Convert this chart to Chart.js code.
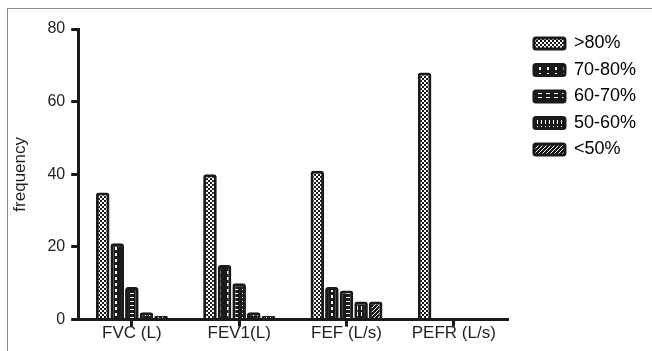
<!DOCTYPE html>
<html>
<head>
<meta charset="utf-8">
<script src="https://cdn.jsdelivr.net/npm/chart.js@4.4.1/dist/chart.umd.min.js"></script>
<style>
  html, body { margin: 0; padding: 0; background: #fff; }
  #wrap { position: relative; width: 652px; height: 351px; }
  #frame { position: absolute; left: 7px; top: 8px; right: 0; bottom: 0;
           border-top: 1px solid #8a8a8a; border-left: 1px solid #8a8a8a; pointer-events: none; }
  canvas { position: absolute; left: 0; top: 0; }
</style>
</head>
<body>
<div id="wrap">
  <canvas id="chart" width="652" height="351"></canvas>
  <div id="frame"></div>
</div>
<script>
/* Spirometry frequency by % predicted band */
var categories = ["FVC (L)", "FEV1(L)", "FEF (L/s)", "PEFR (L/s)"];
var bands = [">80%", "70-80%", "60-70%", "50-60%", "<50%"];
var above80 = [35, 40, 41, 68];
var from70to80 = [21, 15, 9, 0];
var from60to70 = [9, 10, 8, 0];
var from50to60 = [2, 2, 5, 0];
var below50 = [1, 1, 5, 0];
var yTicks = [0, 20, 40, 60, 80];

var INK = "#1a1a1a";
var canvas = document.getElementById("chart");
var ctx = canvas.getContext("2d");

function mkPattern(w, h, bg, draw) {
  var c = document.createElement("canvas");
  c.width = w;
  c.height = h;
  var g = c.getContext("2d");
  g.fillStyle = bg;
  g.fillRect(0, 0, w, h);
  draw(g);
  return ctx.createPattern(c, "repeat");
}

var patterns = [
  // checker
  mkPattern(4, 4, "#fff", function (g) {
    g.fillStyle = INK;
    g.fillRect(0, 0, 2, 2);
    g.fillRect(2, 2, 2, 2);
  }),
  // vertical dashes
  mkPattern(8, 6, INK, function (g) {
    g.fillStyle = "#fff";
    g.fillRect(3, 1, 2, 3);
  }),
  // short horizontal lines
  mkPattern(8, 4, INK, function (g) {
    g.fillStyle = "#fff";
    g.fillRect(2, 1, 4, 1);
  }),
  // vertical lines
  mkPattern(4, 6, INK, function (g) {
    g.fillStyle = "#fff";
    g.fillRect(1, 0, 1, 4);
  }),
  // diagonal hatch
  mkPattern(4, 4, INK, function (g) {
    g.fillStyle = "#fff";
    g.fillRect(3, 0, 1, 1);
    g.fillRect(2, 1, 1, 1);
    g.fillRect(1, 2, 1, 1);
    g.fillRect(0, 3, 1, 1);
  }),
];

var seriesValues = [above80, from70to80, from60to70, from50to60, below50];

var datasets = bands.map(function (name, i) {
  return {
    label: name,
    data: seriesValues[i],
    backgroundColor: patterns[i],
    borderColor: INK,
    borderWidth: 3,
    borderRadius: 3,
    borderSkipped: "bottom",
    barPercentage: 0.93,
    categoryPercentage: 0.68,
  };
});

// nudge the legend block to where the original figure has it
var legendNudge = {
  id: "legendNudge",
  afterLayout: function (chart) {
    var lg = chart.legend;
    if (!lg) return;
    lg.left += 18;
    lg.right += 18;
    lg.top -= 3;
    lg.bottom -= 3;
  },
};

Chart.defaults.font.family = "'Liberation Sans', Arial, sans-serif";
Chart.defaults.color = "#231f20";

new Chart(canvas, {
  type: "bar",
  plugins: [legendNudge],
  data: { labels: categories, datasets: datasets },
  options: {
    responsive: false,
    animation: false,
    layout: { padding: { left: 8, top: 29, right: 24, bottom: 10 } },
    plugins: {
      tooltip: { enabled: false },
      legend: {
        position: "right",
        align: "start",
        labels: {
          boxWidth: 31,
          boxHeight: 11,
          padding: 8.5,
          useBorderRadius: true,
          font: { size: 18 },
          generateLabels: function (chart) {
            return chart.data.datasets.map(function (ds, i) {
              return {
                text: ds.label,
                fillStyle: ds.backgroundColor,
                strokeStyle: INK,
                lineWidth: 3,
                borderRadius: 2,
                datasetIndex: i,
                hidden: false,
              };
            });
          },
        },
      },
    },
    scales: {
      x: {
        grid: {
          offset: false,
          drawOnChartArea: false,
          color: INK,
          lineWidth: 3,
          tickLength: 7,
        },
        border: { color: INK, width: 3 },
        ticks: { font: { size: 17 }, padding: -3 },
      },
      y: {
        min: 0,
        max: 80,
        afterBuildTicks: function (axis) {
          axis.ticks = yTicks.map(function (v) { return { value: v }; });
        },
        grid: {
          drawOnChartArea: false,
          color: INK,
          lineWidth: 3,
          tickLength: 7,
        },
        border: { color: INK, width: 3 },
        ticks: { font: { size: 16 }, padding: 6 },
        title: {
          display: true,
          text: "frequency",
          font: { size: 17 },
          padding: { top: 2, bottom: 11 },
        },
      },
    },
  },
});
</script>
</body>
</html>
